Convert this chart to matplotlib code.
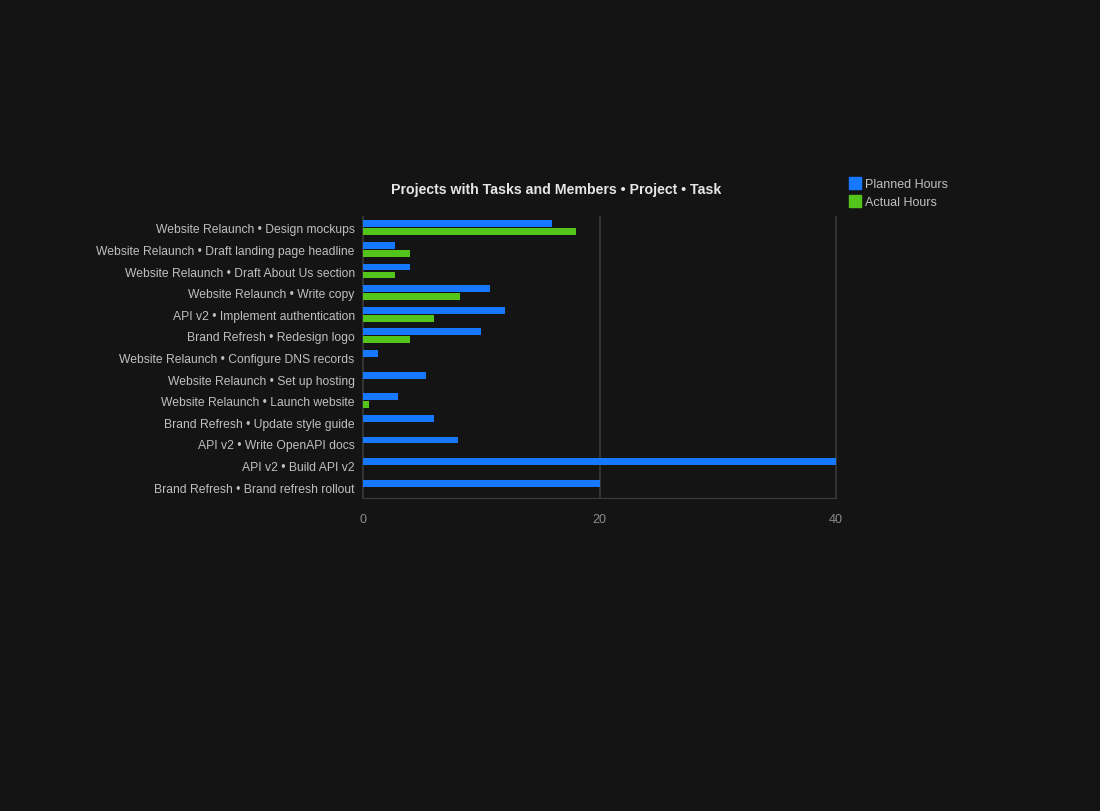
import numpy as np
import matplotlib.pyplot as plt
from matplotlib.lines import Line2D

plt.rcParams['font.family'] = ['Liberation Sans', 'DejaVu Sans']

# данные
tasks = [
    'Website Relaunch • Design mockups',
    'Website Relaunch • Draft landing page headline',
    'Website Relaunch • Draft About Us section',
    'Website Relaunch • Write copy',
    'API v2 • Implement authentication',
    'Brand Refresh • Redesign logo',
    'Website Relaunch • Configure DNS records',
    'Website Relaunch • Set up hosting',
    'Website Relaunch • Launch website',
    'Brand Refresh • Update style guide',
    'API v2 • Write OpenAPI docs',
    'API v2 • Build API v2',
    'Brand Refresh • Brand refresh rollout',
]
planned = [16, 2.7, 4, 10.7, 12, 10, 1.3, 5.3, 3, 6, 8, 40, 20]
actual = [18, 4, 2.7, 8.2, 6, 4, 0, 0, 0.5, 0, 0, 0, 0]

bg = '#141414'
blue = '#1677ff'
green = '#52c41a'

fig = plt.figure(figsize=(11, 8.12), dpi=100, facecolor=bg)
ax = fig.add_axes([363 / 1100, 1 - 499 / 812, 473 / 1100, 281 / 812])
ax.set_facecolor(bg)

y = np.arange(len(tasks))
h = 0.32
ax.barh(y - 0.185, planned, height=h, color=blue, zorder=3)
ax.barh(y + 0.185, actual, height=h, color=green, zorder=3)

ax.set_xlim(0, 40)
ax.set_ylim(len(tasks) - 0.5, -0.5)
ax.set_xticks([0, 20, 40])
ax.set_yticks(y)
ax.set_yticklabels(tasks, color='#bfbfbf', fontsize=8.7)
ax.tick_params(axis='x', colors='#8c8c8c', labelsize=9, length=0, pad=11)
ax.tick_params(axis='y', length=0, pad=6)

for s in ['top', 'right', 'left']:
    ax.spines[s].set_visible(False)
ax.spines['bottom'].set_color('#3a3a3a')
ax.grid(False)
for xv in [0, 20, 40]:
    ax.axvline(xv, color='#3a3a3a', linewidth=1.2, zorder=1, clip_on=False)

fig.text(556 / 1100, 1 - 190 / 812, 'Projects with Tasks and Members • Project • Task',
         ha='center', va='center', color='#e6e6e6', fontsize=10.2, fontweight='bold')

handles = [
    Line2D([], [], marker='s', linestyle='', markersize=8, color=blue),
    Line2D([], [], marker='s', linestyle='', markersize=8, color=green),
]
fig.legend(handles, ['Planned Hours', 'Actual Hours'], loc='upper left',
           bbox_to_anchor=(836 / 1100, 1 - 168 / 812), frameon=False,
           labelcolor='#bfbfbf', fontsize=9, handletextpad=0.2,
           handlelength=1.2, labelspacing=0.5)

fig.savefig('out.png', dpi=100, facecolor=bg)
